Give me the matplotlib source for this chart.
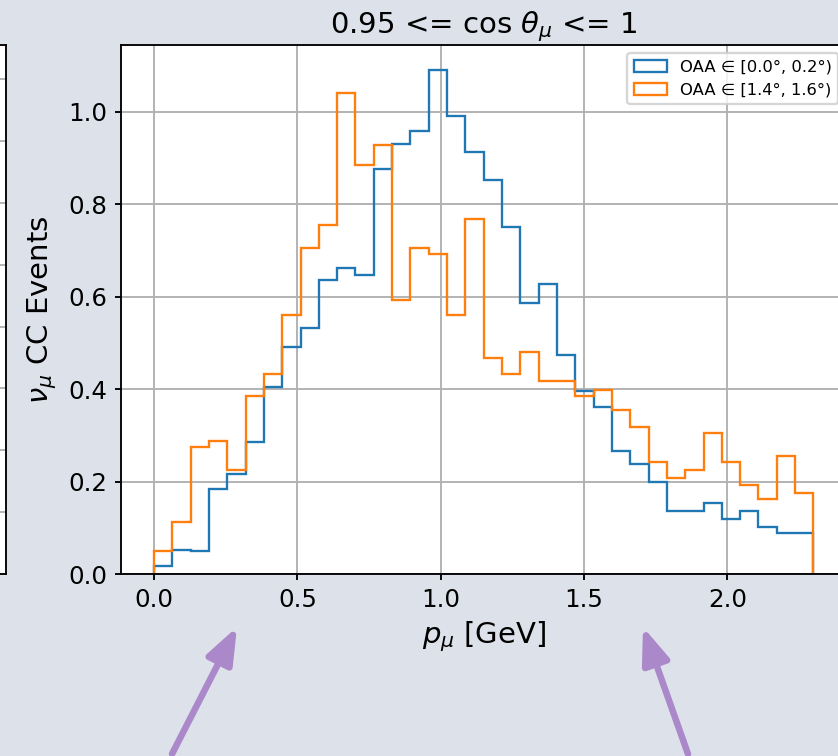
import numpy as np
import matplotlib
matplotlib.use("Agg")
import matplotlib.pyplot as plt
from matplotlib.patches import FancyArrowPatch

# Muon momentum binning [GeV]
p_min, p_max, n_bins = 0.0, 2.3, 36

# Event counts per momentum bin for the two off-axis-angle slices
oaa_low = [0.018, 0.053, 0.050, 0.183, 0.216, 0.285, 0.404, 0.491, 0.533,
           0.636, 0.663, 0.646, 0.877, 0.930, 0.958, 1.090, 0.990, 0.913,
           0.853, 0.751, 0.587, 0.628, 0.474, 0.396, 0.361, 0.267, 0.239,
           0.200, 0.137, 0.137, 0.154, 0.120, 0.136, 0.102, 0.089, 0.089]
oaa_high = [0.050, 0.113, 0.274, 0.288, 0.225, 0.386, 0.432, 0.561, 0.705,
            0.755, 1.041, 0.884, 0.929, 0.593, 0.706, 0.692, 0.561, 0.769,
            0.468, 0.432, 0.481, 0.418, 0.418, 0.386, 0.399, 0.355, 0.319,
            0.242, 0.208, 0.225, 0.305, 0.242, 0.193, 0.162, 0.256, 0.175]

series_labels = ["OAA \u2208 [0.0°, 0.2°)", "OAA \u2208 [1.4°, 1.6°)"]
series_colors = ["#1f77b4", "#ff7f0e"]

title = r"0.95 <= cos $\theta_\mu$ <= 1"
xlabel = r"$p_\mu$ [GeV]"
ylabel = r"$\nu_\mu$ CC Events"

bg = "#dde1ea"
arrow_color = "#ab88c9"

W, H, DPI = 838, 756, 168
fig = plt.figure(figsize=(W / DPI, H / DPI), dpi=DPI, facecolor=bg)

ax_bottom = (H - 574) / H
ax_height = (574 - 45) / H

# Neighbouring panel, only its right edge falls inside the canvas
ax_left = fig.add_axes([(6 - 400) / W, ax_bottom, 400 / W, ax_height])
ax_left.set_ylim(0, 1.71)
ax_left.set_yticks(np.arange(0, 1.71, 0.2))
ax_left.set_xticks([])
ax_left.grid(True, axis="y", color="#b0b0b0", lw=0.8)
ax_left.tick_params(labelleft=False, left=False)

# Main panel
ax = fig.add_axes([121 / W, ax_bottom, (846.4 - 121) / W, ax_height])
edges = np.linspace(p_min, p_max, n_bins + 1)
centers = 0.5 * (edges[:-1] + edges[1:])
for vals, lab, col in zip([oaa_low, oaa_high], series_labels, series_colors):
    ax.hist(centers, bins=edges, weights=vals, histtype="step",
            color=col, lw=1.0, label=lab)

ax.set_xticks([0.0, 0.5, 1.0, 1.5, 2.0])
ax.set_yticks([0.0, 0.2, 0.4, 0.6, 0.8, 1.0])
ax.grid(True, color="#b0b0b0", lw=0.8)
ax.set_axisbelow(True)
ax.tick_params(labelsize=10.5, length=2.5, pad=3.5)
ax.set_xlabel(xlabel, fontsize=12.5, labelpad=3)
ax.set_ylabel(ylabel, fontsize=12.5, labelpad=4)
ax.set_title(title, fontsize=12.5, pad=5)
ax.legend(loc="upper right", fontsize=7.0)

# Pointer arrows beneath the axis
for tail, tip in [((172, 2), (237, 129)), ((688, 2), (643, 129))]:
    arr = FancyArrowPatch((tail[0] / W, tail[1] / H), (tip[0] / W, tip[1] / H),
                          transform=fig.transFigure,
                          arrowstyle="-|>,head_length=0.65,head_width=0.25",
                          mutation_scale=20, lw=2.8, color=arrow_color,
                          shrinkA=0, shrinkB=0)
    fig.patches.append(arr)

fig.savefig("out.png", dpi=DPI, facecolor=bg)
